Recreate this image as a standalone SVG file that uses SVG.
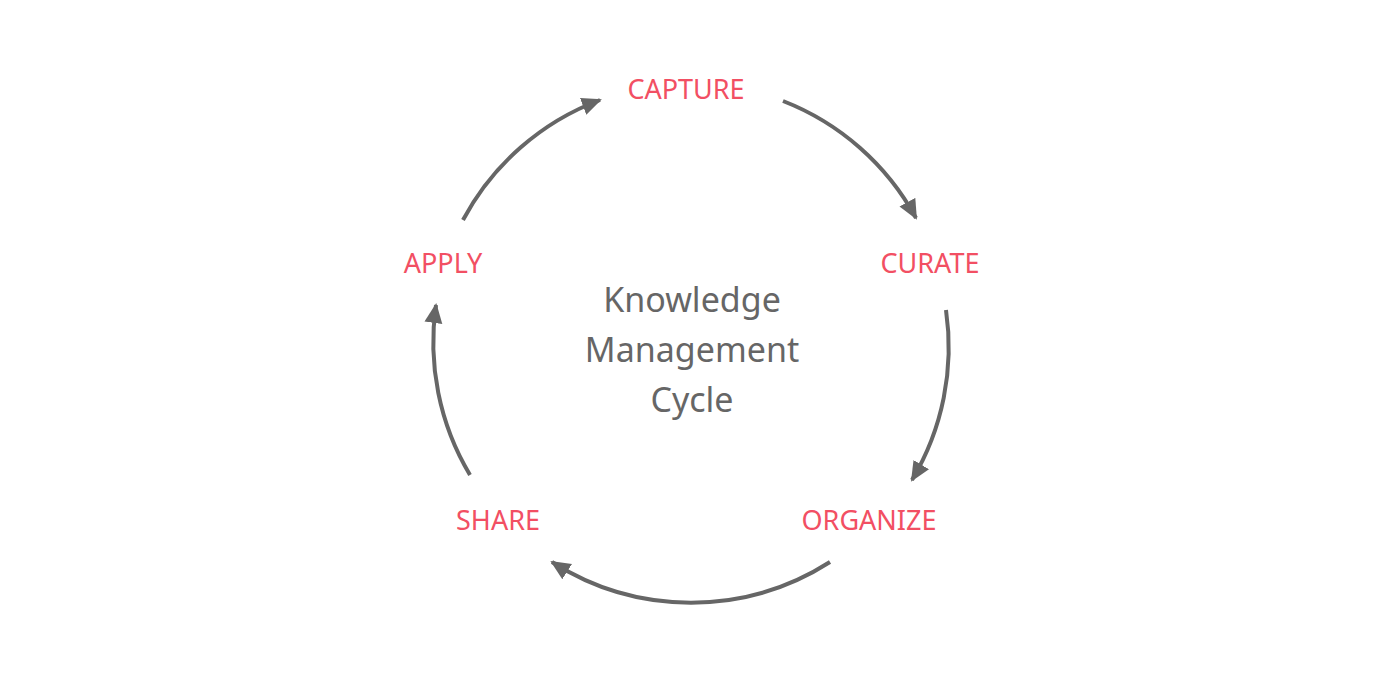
<svg xmlns="http://www.w3.org/2000/svg" width="1400" height="692" viewBox="0 0 1400 692">
<style>
.lbl{font-family:"Noto Sans","Open Sans",sans-serif;font-size:27px;fill:#f24f63;text-anchor:middle}
.ctr{font-family:"Noto Sans","Open Sans",sans-serif;font-size:34px;fill:#666;text-anchor:middle}
.arc{fill:none;stroke:#666;stroke-width:4}
</style>
<defs><marker id="ah" markerUnits="userSpaceOnUse" markerWidth="22" markerHeight="22" refX="18" refY="9" orient="auto"><path d="M0,0 L20,9 L0,18 Z" fill="#666"/></marker></defs>
<rect width="1400" height="692" fill="#fff"/>
<g id="connectors">
<path class="arc" marker-end="url(#ah)" d="M783,101 A258,258 0 0 1 916,218"/>
<path class="arc" marker-end="url(#ah)" d="M946,310 A258,258 0 0 1 912,480"/>
<path class="arc" marker-end="url(#ah)" d="M830,562 A258,258 0 0 1 552,562"/>
<path class="arc" marker-end="url(#ah)" d="M470,475 A258,258 0 0 1 436,305"/>
<path class="arc" marker-end="url(#ah)" d="M463,220 A258,258 0 0 1 600,100"/>
</g>
<g id="capture"><text class="lbl" x="686" y="99">CAPTURE</text></g>
<g id="curate"><text class="lbl" x="930" y="273">CURATE</text></g>
<g id="organize"><text class="lbl" x="869" y="530">ORGANIZE</text></g>
<g id="share"><text class="lbl" x="498" y="530">SHARE</text></g>
<g id="apply"><text class="lbl" x="443" y="273">APPLY</text></g>
<g id="center"><text class="ctr" x="692" y="312">Knowledge</text><text class="ctr" x="692" y="362">Management</text><text class="ctr" x="692" y="412">Cycle</text></g>
</svg>
